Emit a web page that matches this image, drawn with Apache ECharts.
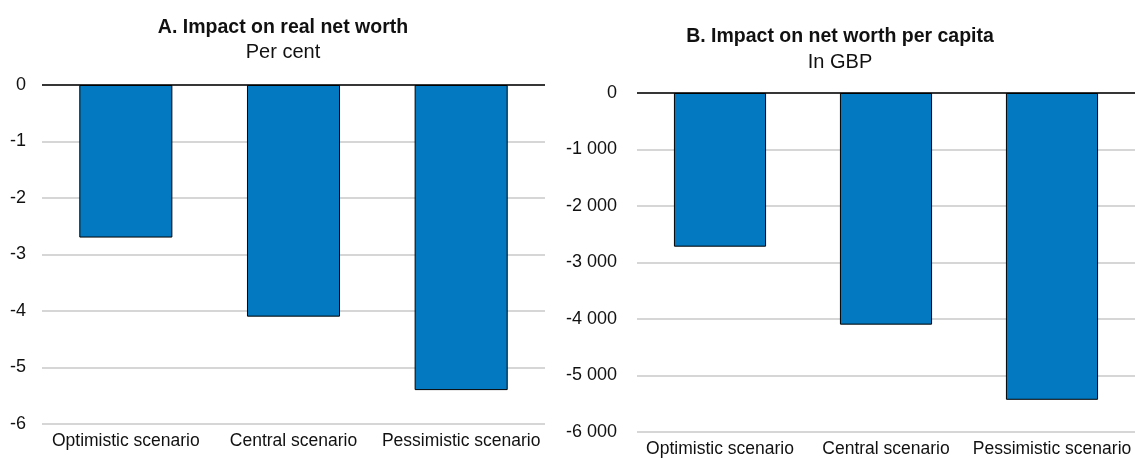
<!DOCTYPE html>
<html><head><meta charset="utf-8">
<script src="https://cdn.jsdelivr.net/npm/echarts@6/dist/echarts.min.js"></script>
<style>html,body{margin:0;padding:0;background:#fff}#c{width:1135px;height:460px}</style>
</head><body><div id="c"></div>
<script>
const categories = ['Optimistic scenario', 'Central scenario', 'Pessimistic scenario'];
const netWorthPct = [-2.7, -4.1, -5.4];
const netWorthGBP = [-2720, -4100, -5430];
const titleA = 'A. Impact on real net worth';
const subA = 'Per cent';
const titleB = 'B. Impact on net worth per capita';
const subB = 'In GBP';

const FONT = "'Liberation Sans Narrow','Arial Narrow','Liberation Sans',Arial,sans-serif";
const BLUE = '#0279c1';
const chart = echarts.init(document.getElementById('c'), null, {renderer: 'canvas'});

function fmtThousands(v) {
  const s = Math.abs(v).toString().replace(/\B(?=(\d{3})+(?!\d))/g, ' ');
  return (v < 0 ? '-' : '') + s;
}

function xAx(gi) {
  return {
    type: 'category', gridIndex: gi, data: categories, position: 'bottom',
    axisLine: {show: false}, axisTick: {show: false},
    axisLabel: {fontFamily: FONT, fontSize: 17.5, color: '#111', margin: 8, interval: 0}
  };
}
function yAx(gi, min, interval, fmt, margin) {
  return {
    type: 'value', gridIndex: gi, min: min, max: 0, interval: interval,
    axisLine: {show: false}, axisTick: {show: false},
    axisLabel: {fontFamily: FONT, fontSize: 18, color: '#111', margin: margin, formatter: fmt},
    splitLine: {lineStyle: {color: '#c8c8c8', width: 1.5}}
  };
}
function bar(gi, data) {
  return {
    type: 'bar', xAxisIndex: gi, yAxisIndex: gi, data: data, barWidth: '55.5%',
    itemStyle: {color: BLUE, borderColor: '#000', borderWidth: 1},
    markLine: {silent: true, symbol: 'none', label: {show: false},
      lineStyle: {color: '#000', type: 'solid', width: 1.5},
      data: [{yAxis: 0}]},
    animation: false
  };
}

chart.setOption({
  animation: false,
  title: [
    {text: titleA, subtext: subA, left: 278, top: 13, textAlign: 'center', itemGap: 4,
      textStyle: {fontFamily: FONT, fontSize: 19.5, fontWeight: 'bold', color: '#111'},
      subtextStyle: {fontFamily: FONT, fontSize: 20, color: '#111'}},
    {text: titleB, subtext: subB, left: 835, top: 22, textAlign: 'center', itemGap: 5,
      textStyle: {fontFamily: FONT, fontSize: 19.5, fontWeight: 'bold', color: '#111'},
      subtextStyle: {fontFamily: FONT, fontSize: 20, color: '#111'}}
  ],
  grid: [
    {left: 42, top: 85, width: 503, height: 339},
    {left: 637, top: 93, width: 498, height: 339}
  ],
  xAxis: [xAx(0), xAx(1)],
  yAxis: [
    yAx(0, -6, 1, v => String(v), 16),
    yAx(1, -6000, 1000, fmtThousands, 20)
  ],
  series: [bar(0, netWorthPct), bar(1, netWorthGBP)]
});
</script></body></html>
